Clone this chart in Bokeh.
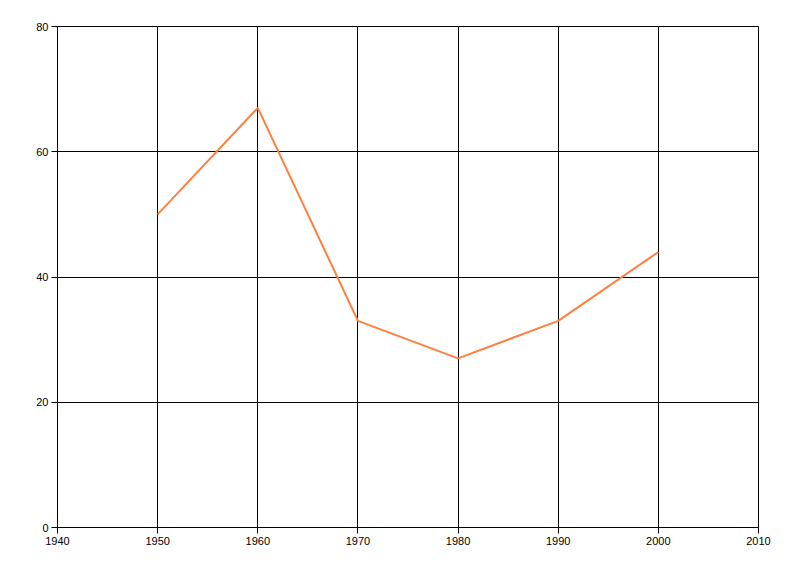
from bokeh.plotting import figure
from bokeh.models import Range1d, FixedTicker
from bokeh.embed import file_html
from bokeh.resources import INLINE

years = [1950, 1960, 1970, 1980, 1990, 2000]
values = [50, 67, 33, 27, 33, 44]
x_ticks = [1940, 1950, 1960, 1970, 1980, 1990, 2000, 2010]
y_ticks = [0, 20, 40, 60, 80]

p = figure(width=792, height=568, output_backend="svg", toolbar_location=None,
           x_range=Range1d(1940, 2010), y_range=Range1d(0, 80),
           min_border_left=57, min_border_right=34, min_border_top=26, min_border_bottom=41)

p.line(years, values, line_color="#FF7F3F", line_width=2)

p.xaxis.ticker = FixedTicker(ticks=x_ticks)
p.yaxis.ticker = FixedTicker(ticks=y_ticks)
for ax in (p.xaxis, p.yaxis):
    ax.axis_line_color = "black"
    ax.major_tick_line_color = "black"
    ax.major_tick_out = 6
    ax.major_tick_in = 0
    ax.minor_tick_line_color = None
    ax.major_label_text_font = "Liberation Sans"
    ax.major_label_text_font_size = "11px"
    ax.major_label_text_color = "black"
    ax.major_label_standoff = 3

p.xgrid.grid_line_color = "black"
p.ygrid.grid_line_color = "black"
p.xgrid.grid_line_alpha = 1
p.ygrid.grid_line_alpha = 1
p.outline_line_color = "black"
p.outline_line_alpha = 1
p.background_fill_color = "white"
p.border_fill_color = "white"

open("out.html", "w").write(file_html(p, INLINE))
